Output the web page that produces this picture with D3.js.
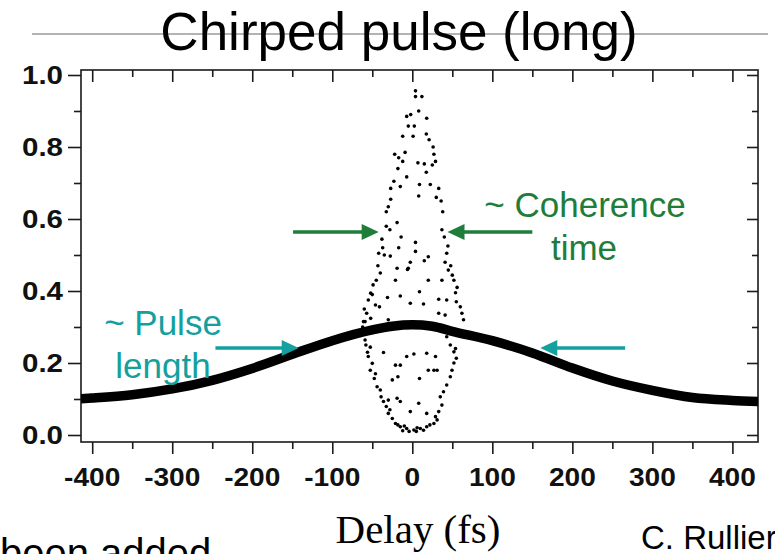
<!DOCTYPE html>
<html>
<head>
<meta charset="utf-8">
<script src="https://cdn.jsdelivr.net/npm/d3@7"></script>
<style>
  html, body { margin: 0; padding: 0; background: #fff; }
  svg { display: block; }
</style>
</head>
<body>
<svg id="chart" width="775" height="554"></svg>
<script>
// ---------- data ----------
const xTickValues = [-400, -300, -200, -100, 0, 100, 200, 300, 400];
const xMinorTicks = [-350, -250, -150, -50, 50, 150, 250, 350];
const yTickValues = [0.0, 0.2, 0.4, 0.6, 0.8, 1.0];
const yMinorTicks = [0.1, 0.3, 0.5, 0.7, 0.9];

// broad pulse envelope (thick trace)
const envDelay = [-414, -400, -350, -300, -250, -200, -150, -100, -50, -25, 0, 25, 50, 100, 150, 200, 250, 300, 350, 400, 432];
const envValue = [0.101, 0.103, 0.112, 0.128, 0.152, 0.185, 0.224, 0.262, 0.292, 0.302, 0.306, 0.302, 0.288, 0.262, 0.228, 0.186, 0.150, 0.124, 0.104, 0.096, 0.093];

// scattered points of the coherence spike: [delay (fs), signal]
const spikePoints = [
  [4,0.956],[4,0.94],[12,0.94],[8,0.90],[-7,0.885],[-2,0.89],[18,0.88],[-5,0.858],[2.5,0.858],[17.5,0.836],
  [1,0.83],[-22,0.78],[-17,0.77],[-9,0.785],[-12,0.76],[26,0.80],[27,0.78],[29,0.76],[25,0.75],[7,0.756],
  [15,0.753],[17.5,0.73],[-7,0.717],[-23,0.705],[-27,0.685],[-15,0.69],[9,0.696],[22.5,0.696],[33,0.685],[8,0.664],
  [-27,0.655],[-30,0.634],[-32.5,0.62],[36,0.65],[38,0.62],[-19,0.59],[-32.5,0.58],[37,0.57],[-38,0.544],[-37,0.52],
  [-42,0.505],[-43,0.47],[-14,0.55],[-17,0.52],[4,0.535],[4,0.51],[44.5,0.525],[43,0.505],[-27.5,0.497],[-2.5,0.48],
  [15,0.484],[20,0.495],[41,0.48],[-19,0.463],[-6,0.46],
  [-40,0.45],[-49,0.417],[-52,0.394],[-5,0.463],[45,0.458],[50,0.444],[52,0.43],[-21,0.43],[20,0.43],[37,0.43],
  [-55,0.375],[-46,0.361],[-41,0.356],[-57,0.338],[-52,0.324],[-15,0.386],[9,0.398],[-31,0.382],[-2.5,0.366],[14,0.364],
  [33,0.377],[43,0.375],[54,0.395],[55,0.37],[60,0.356],[62,0.338],[64,0.32],[33,0.338],[41,0.333],[-61,0.315],
  [-59,0.315],[-30,0.32],
  [-59,0.264],[-52.5,0.244],[-55,0.218],[-50,0.199],[-52.5,0.18],[-47.5,0.157],[-44,0.134],[-40,0.125],[-39,0.106],[-36,0.093],
  [-32.5,0.079],[-30,0.06],[-25,0.046],[-21,0.032],[-15,0.023],[-7,0.018],[2,0.014],[10,0.018],[18,0.023],[27,0.032],
  [31,0.042],[43,0.273],[47.5,0.25],[52,0.231],[55,0.213],[49.6,0.18],[47.5,0.162],[43,0.139],[39,0.12],[35,0.106],
  [37,0.083],[33,0.065],[29,0.051],[-36,0.229],[-15,0.194],[-21,0.194],[-7,0.218],[2,0.225],[18,0.227],[29,0.218],
  [9,0.157],[20,0.18],[27,0.18],[31,0.18],[-18,0.162],[-15,0.093],[8,0.088],[18,0.06],[-2.5,0.065],[-30,0.097],
  [-19,0.102],[-25,0.153],
  [-12,0.012],[-4,0.01],[5,0.01],[14,0.013],[-18,0.028],[22,0.028],[-10,0.025],[6,0.02],[-28,0.07],[-46,0.17],
  [-56,0.23],[-58,0.25],[52,0.2],[54,0.24],[58,0.29],[-62,0.3],[-60,0.35],[-50,0.39],[-45,0.43],[56,0.41],
  [48,0.47],[-35,0.5],[40,0.55],[-28,0.57],[30,0.66],[-18,0.74],[21,0.82],[-12,0.83]
];

const titleText = "Chirped pulse (long)";
const xAxisTitle = "Delay (fs)";
const pulseLabel = ["~ Pulse", "length"];
const coherenceLabel = ["~ Coherence", "time"];

// ---------- layout ----------
const svg = d3.select("#chart");
const frame = { left: 81, right: 758, top: 70, bottom: 442 };
const x = d3.scaleLinear().domain([-414, 432]).range([frame.left, frame.right]);
const y = d3.scaleLinear().domain([0, 1]).range([435, 75]);

const sans = "'Liberation Sans', Arial, Helvetica, sans-serif";
const serif = "'Liberation Serif', 'Times New Roman', Times, serif";
const teal = "#14a09e";
const green = "#1f7d3a";

svg.append("rect").attr("width", 775).attr("height", 554).attr("fill", "#fff");

// slide title rule + title
svg.append("line").attr("x1", 32).attr("x2", 768).attr("y1", 34).attr("y2", 34)
  .attr("stroke", "#9a9a9a").attr("stroke-width", 1.5);
svg.append("text").attr("x", 399).attr("y", 50).attr("text-anchor", "middle")
  .attr("font-family", sans).attr("font-size", 53).attr("fill", "#000").text(titleText);

// ---------- axes ----------
const ink = "#1a1a1a";
function styleAxis(g) {
  g.select(".domain").remove();
  g.selectAll("line").attr("stroke", ink).attr("stroke-width", 1.6);
  g.selectAll("text").remove();
}
svg.append("g").attr("transform", `translate(0,${frame.bottom})`)
  .call(d3.axisBottom(x).tickValues(xTickValues).tickSize(12)).call(styleAxis);
svg.append("g").attr("transform", `translate(0,${frame.bottom})`)
  .call(d3.axisBottom(x).tickValues(xMinorTicks).tickSize(7)).call(styleAxis);
svg.append("g").attr("transform", `translate(0,${frame.top})`)
  .call(d3.axisBottom(x).tickValues(xTickValues).tickSize(12)).call(styleAxis);
svg.append("g").attr("transform", `translate(0,${frame.top})`)
  .call(d3.axisBottom(x).tickValues(xMinorTicks).tickSize(7)).call(styleAxis);
svg.append("g").attr("transform", `translate(${frame.left},0)`)
  .call(d3.axisLeft(y).tickValues(yTickValues).tickSize(13)).call(styleAxis);
svg.append("g").attr("transform", `translate(${frame.left},0)`)
  .call(d3.axisLeft(y).tickValues(yMinorTicks).tickSize(7)).call(styleAxis);
svg.append("g").attr("transform", `translate(${frame.right},0)`)
  .call(d3.axisLeft(y).tickValues(yTickValues).tickSize(11)).call(styleAxis);
svg.append("g").attr("transform", `translate(${frame.right},0)`)
  .call(d3.axisLeft(y).tickValues(yMinorTicks).tickSize(6)).call(styleAxis);

svg.append("rect").attr("x", frame.left).attr("y", frame.top)
  .attr("width", frame.right - frame.left).attr("height", frame.bottom - frame.top)
  .attr("fill", "none").attr("stroke", ink).attr("stroke-width", 1.6);

// tick labels
svg.append("g").selectAll("text").data(yTickValues).join("text")
  .attr("transform", d => `translate(63,${y(d)}) scale(1.18,1)`)
  .attr("dy", "0.36em").attr("text-anchor", "end")
  .attr("font-family", sans).attr("font-weight", "bold").attr("font-size", 25)
  .attr("fill", "#111").text(d => d3.format(".1f")(d));
svg.append("g").selectAll("text").data(xTickValues).join("text")
  .attr("transform", d => `translate(${x(d)},486) scale(1.08,1)`)
  .attr("text-anchor", "middle")
  .attr("font-family", sans).attr("font-weight", "bold").attr("font-size", 26)
  .attr("fill", "#111").text(d => d < 0 ? "-" + Math.abs(d) : String(d));

// x axis title (serif)
svg.append("text").attr("transform", `translate(418,543) scale(1.05,1)`)
  .attr("text-anchor", "middle").attr("font-family", serif).attr("font-size", 39)
  .attr("fill", "#000").text(xAxisTitle);

// ---------- data marks ----------
svg.append("clipPath").attr("id", "plotclip").append("rect")
  .attr("x", frame.left).attr("y", frame.top)
  .attr("width", frame.right - frame.left).attr("height", frame.bottom - frame.top);
const plot = svg.append("g").attr("clip-path", "url(#plotclip)");

const envData = envDelay.map((d, i) => [d, envValue[i]]);
plot.append("path").datum(envData)
  .attr("d", d3.line().x(d => x(d[0])).y(d => y(d[1])).curve(d3.curveMonotoneX))
  .attr("fill", "none").attr("stroke", "#000").attr("stroke-width", 9.5)
  .attr("stroke-linecap", "butt");

plot.append("g").selectAll("circle").data(spikePoints).join("circle")
  .attr("cx", d => x(d[0])).attr("cy", d => y(d[1])).attr("r", 1.8).attr("fill", "#000");

// ---------- annotations ----------
function arrow(x1, x2, yy, color) {
  const dir = Math.sign(x2 - x1);
  const headLen = 17, headHalf = 8;
  svg.append("line").attr("x1", x1).attr("x2", x2 - dir * headLen + dir * 2)
    .attr("y1", yy).attr("y2", yy).attr("stroke", color).attr("stroke-width", 3.5);
  svg.append("path")
    .attr("d", `M${x2},${yy} L${x2 - dir * headLen},${yy - headHalf} L${x2 - dir * headLen},${yy + headHalf} Z`)
    .attr("fill", color);
}
arrow(x(-246), x(-142), y(0.242), teal);
arrow(x(266), x(160), y(0.242), teal);
arrow(x(-149), x(-42), y(0.564), green);
arrow(x(150), x(44), y(0.564), green);

svg.append("text").attr("x", 163).attr("y", 335).attr("text-anchor", "middle")
  .attr("font-family", sans).attr("font-size", 35).attr("fill", teal).text(pulseLabel[0]);
svg.append("text").attr("x", 163).attr("y", 378).attr("text-anchor", "middle")
  .attr("font-family", sans).attr("font-size", 35).attr("fill", teal).text(pulseLabel[1]);
svg.append("text").attr("x", 585).attr("y", 217).attr("text-anchor", "middle")
  .attr("font-family", sans).attr("font-size", 35).attr("fill", green).text(coherenceLabel[0]);
svg.append("text").attr("x", 584).attr("y", 260).attr("text-anchor", "middle")
  .attr("font-family", sans).attr("font-size", 35).attr("fill", green).text(coherenceLabel[1]);

// slide footer fragments (cut by the page edges, as in the source slide)
svg.append("text").attr("x", 0).attr("y", 567)
  .attr("font-family", sans).attr("font-size", 40).attr("fill", "#000").text("been added");
svg.append("text").attr("x", 641).attr("y", 549)
  .attr("font-family", sans).attr("font-size", 33).attr("fill", "#000").text("C. Rulliere");
</script>
</body>
</html>
